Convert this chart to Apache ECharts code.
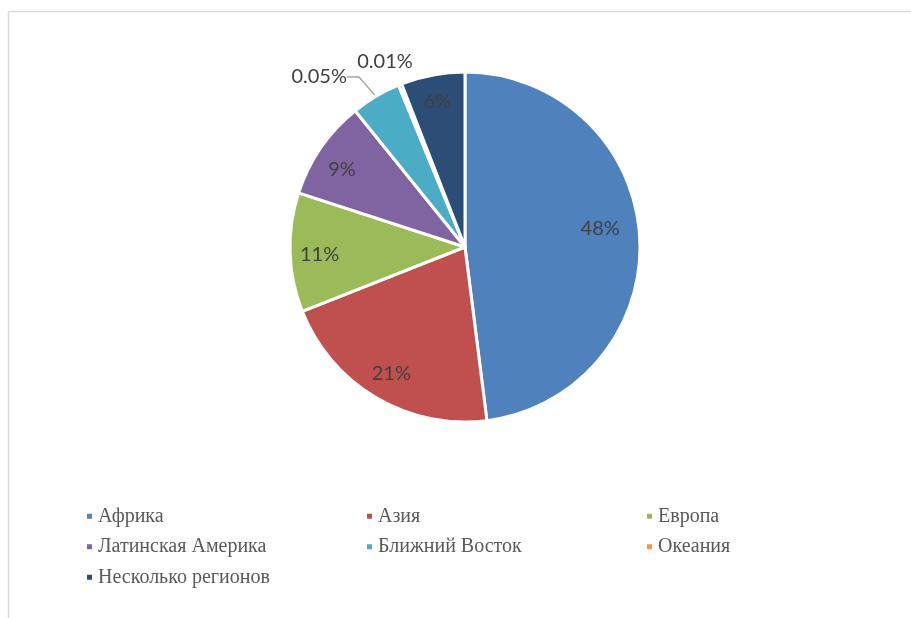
<!DOCTYPE html>
<html>
<head>
<meta charset="utf-8">
<script src="https://cdn.jsdelivr.net/npm/echarts@6/dist/echarts.min.js"></script>
<style>
html,body{margin:0;padding:0;background:#fff;}
#chart{width:911px;height:618px;}
</style>
</head>
<body>
<div id="chart"></div>
<script>
const categories = ['Африка','Азия','Европа','Латинская Америка','Ближний Восток','Океания','Несколько регионов'];
const values = [48, 21, 11, 9.2, 4.6, 0.3, 5.9];
const labelTexts = ['48%','21%','11%','9%','0.05%','0.01%','6%'];
const colors = ['#4F81BD','#C0504D','#9BBB59','#8064A2','#4BACC6','#F79646','#2C4D75'];
const outsideIdx = [4, 5];

const chart = echarts.init(document.getElementById('chart'));

const innerOffsets = [[-15, -9], [3, -3], [5, 3], [1, 8], [0, 0], [0, 0], [0, 2]];

const mainData = categories.map((n, i) => ({
  name: n, value: values[i], itemStyle: { color: colors[i] }
}));
const outerData = categories.map((n, i) => ({
  name: n, value: values[i],
  label: { show: outsideIdx.includes(i) },
  labelLine: { show: i === 4 }
}));
const innerData = categories.map((n, i) => ({
  name: n, value: values[i],
  label: { show: !outsideIdx.includes(i), offset: innerOffsets[i] }
}));

const labelFont = { fontFamily: 'Lato', fontSize: 20, color: '#404040' };
const fmt = p => labelTexts[p.dataIndex];
const pieBase = { type: 'pie', center: [465, 247], startAngle: 90, clockwise: true, avoidLabelOverlap: false, emphasis: { disabled: true } };
const serif = 'Liberation Serif';

const option = {
  animation: false,
  color: colors,
  graphic: [
    { type: 'line', shape: { x1: 8.5, y1: 11.5, x2: 911, y2: 11.5 }, style: { stroke: '#d9d9d9', lineWidth: 1.5 } },
    { type: 'line', shape: { x1: 8.5, y1: 11.5, x2: 8.5, y2: 618 }, style: { stroke: '#d9d9d9', lineWidth: 1.5 } }
  ],
  legend: {
    orient: 'horizontal', left: 80, top: 496, width: 845,
    itemWidth: 7, itemHeight: 7, itemGap: 0,
    icon: 'rect',
    formatter: name => '{s|' + name + '}',
    textStyle: {
      fontFamily: serif, fontSize: 20, color: '#595959', width: 267, lineHeight: 30.5, overflow: 'none',
      rich: { s: { fontFamily: serif, fontSize: 20, color: '#595959', lineHeight: 30.5 } }
    },
    data: categories
  },
  series: [
    Object.assign({}, pieBase, {
      radius: [0, 175],
      itemStyle: { borderColor: '#fff', borderWidth: 3 },
      label: { show: false }, labelLine: { show: false },
      data: mainData
    }),
    Object.assign({}, pieBase, {
      radius: [0, 175], silent: true,
      itemStyle: { color: 'rgba(0,0,0,0)', borderWidth: 0 },
      label: Object.assign({ position: 'outside', formatter: fmt }, labelFont),
      labelLine: { length: 14, length2: 12, lineStyle: { color: '#a6a6a6', width: 1.5 } },
      labelLayout: function (p) {
        if (p.dataIndex === 4) return { x: 347, y: 77, align: 'right', verticalAlign: 'middle' };
        if (p.dataIndex === 5) return { x: 385, y: 62, align: 'center', verticalAlign: 'middle' };
        return {};
      },
      data: outerData
    }),
    Object.assign({}, pieBase, {
      radius: [120, 175], silent: true,
      itemStyle: { color: 'rgba(0,0,0,0)', borderWidth: 0 },
      label: Object.assign({ position: 'inside', formatter: fmt }, labelFont),
      labelLine: { show: false },
      data: innerData
    })
  ]
};

chart.setOption(option);
</script>
</body>
</html>
